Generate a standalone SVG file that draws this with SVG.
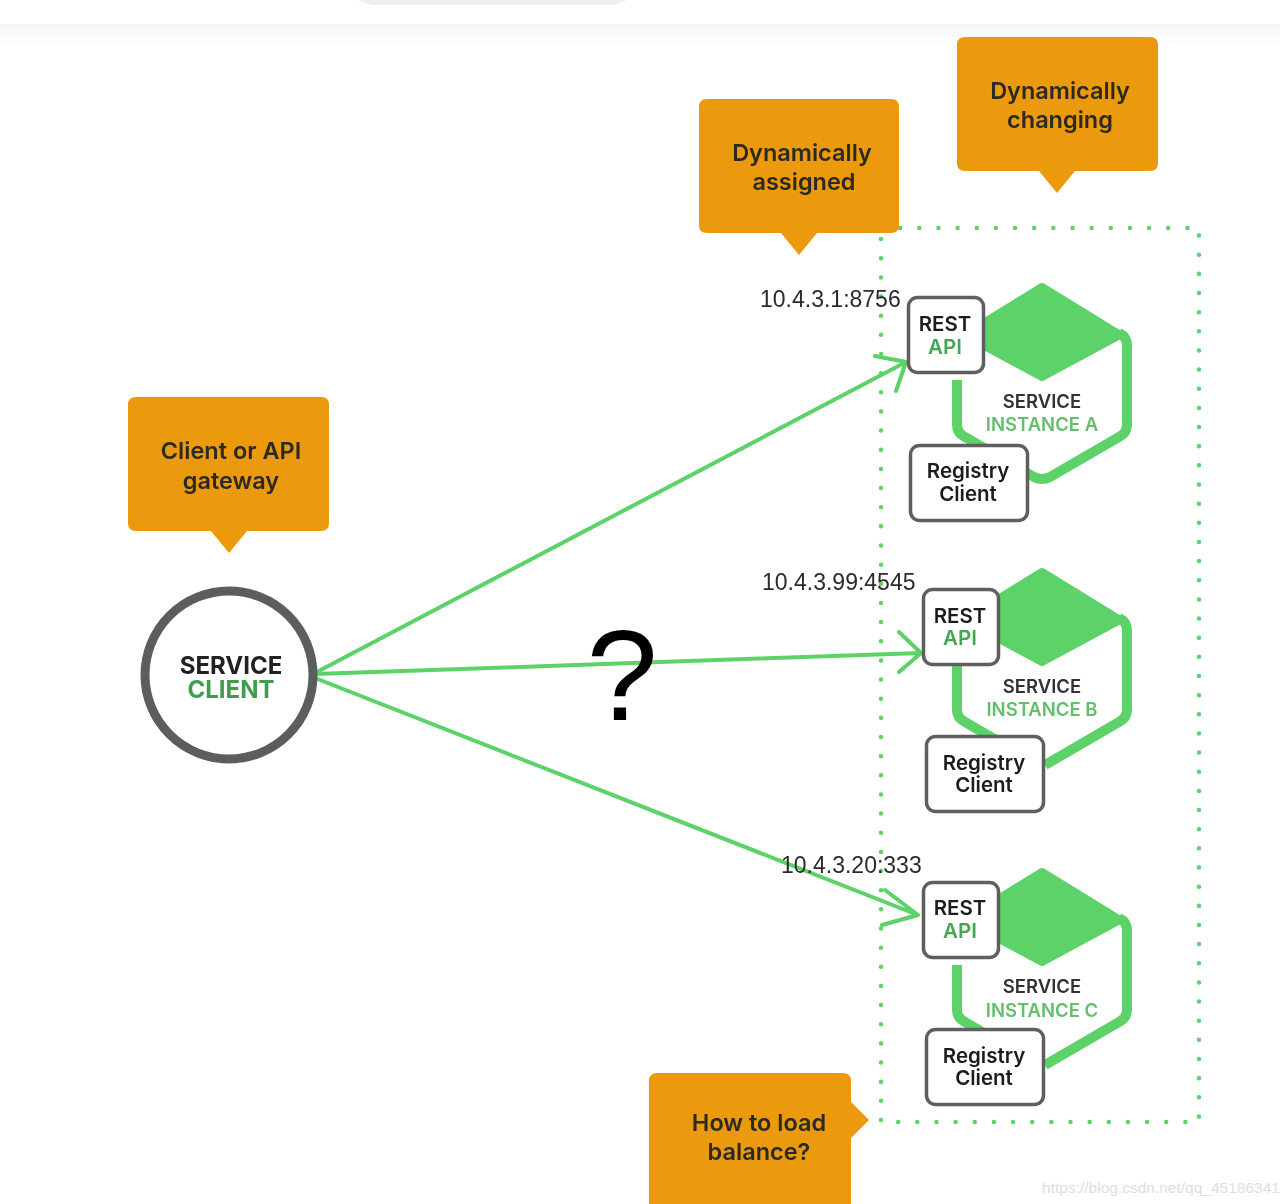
<svg xmlns="http://www.w3.org/2000/svg" width="1280" height="1204" viewBox="0 0 1280 1204">
<style>
text{font-family:"Inter","Liberation Sans",sans-serif;text-anchor:middle}
.c{fill:#ec9a07}
.ct{font-size:23.5px;font-weight:600;fill:#2c2a22}
.hexline{fill:none;stroke:#5cd268;stroke-width:10;stroke-linejoin:round}
.hexfill{fill:#5cd268;stroke:#5cd268;stroke-width:8;stroke-linejoin:round}
.box{fill:#fff;stroke:#5f5f5f;stroke-width:3.5}
.bt{font-size:20.5px;font-weight:600;fill:#1c1c1c}
.gt{font-size:20.5px;font-weight:600;fill:#45a552}
.st{font-size:18.5px;font-weight:600;fill:#333}
.sg{font-size:18.5px;font-weight:600;fill:#62bf6c}
.ip{font-family:"Liberation Sans",sans-serif;font-size:23px;fill:#2b2b2b;text-anchor:start}
.conn{fill:none;stroke:#5cd268;stroke-width:4;stroke-linecap:round;stroke-linejoin:round}
</style>
<defs>
<linearGradient id="g" x1="0" y1="0" x2="0" y2="1"><stop offset="0" stop-color="#f6f6f6"/><stop offset="1" stop-color="#fff"/></linearGradient>
<filter id="b" x="-5%" y="-5%" width="110%" height="110%"><feGaussianBlur stdDeviation="0.5"/></filter>
</defs>
<rect width="1280" height="1204" fill="#fff"/>
<g id="page-chrome">
<rect x="0" y="24" width="1280" height="22" fill="url(#g)"/>
<path d="M357 -1H628Q620 5 608 5H377Q365 5 357 -1Z" fill="#eeeeee"/>
</g>
<g filter="url(#b)">
<path id="boundary" d="M881 228H1199V1122H881Z" fill="none" stroke="#5cd268" stroke-width="4.5" stroke-linecap="round" stroke-dasharray="0 19.15"/>
<g id="connectors">
<path class="conn" d="M315 673L906 362M875 356L906 362L896 391"/>
<path class="conn" d="M315 674L921 653M899 632L921 653L899 672"/>
<path class="conn" d="M315 678L918 915M885 890L918 915L882 925"/>
</g>
<g id="client-callout"><path class="c" d="M136 397H321Q329 397 329 405V523Q329 531 321 531H247L229 553L211 531H136Q128 531 128 523V405Q128 397 136 397Z"/><text class="ct" x="231" y="459">Client or API</text><text class="ct" x="231" y="489">gateway</text></g>
<g id="assigned-callout"><path class="c" d="M707 99H891Q899 99 899 107V225Q899 233 891 233H817L799 255L781 233H707Q699 233 699 225V107Q699 99 707 99Z"/><text class="ct" x="802" y="161">Dynamically</text><text class="ct" x="804" y="190">assigned</text></g>
<g id="changing-callout"><path class="c" d="M965 37H1150Q1158 37 1158 45V163Q1158 171 1150 171H1075L1057 193L1039 171H965Q957 171 957 163V45Q957 37 965 37Z"/><text class="ct" x="1060" y="99">Dynamically</text><text class="ct" x="1060" y="128">changing</text></g>
<g id="balance-callout"><path class="c" d="M657 1073H843Q851 1073 851 1081V1102L869 1120L851 1138V1204H649V1081Q649 1073 657 1073Z"/><text class="ct" x="759" y="1131">How to load</text><text class="ct" x="759" y="1160">balance?</text></g>
<g id="service-client"><circle cx="229" cy="675" r="84" fill="#fff" stroke="#5d5d5d" stroke-width="9"/><text x="231" y="674" font-size="24" font-weight="700" fill="#222">SERVICE</text><text x="231" y="698" font-size="24" font-weight="700" fill="#3f9d4d">CLIENT</text></g>
<text id="question" x="622" y="720" font-size="128" fill="#000" style="font-family:'Liberation Sans',sans-serif">?</text>
<g id="instance-a">
<path class="hexline" d="M957 380V425Q957 433 965 437L1034 477Q1042 481 1050 477L1119 437Q1127 433 1127 425V345Q1127 337 1119 333"/>
<path class="hexfill" d="M1042 287L1120 335L1042 377L964 335Z"/>
<text class="st" x="1042" y="408">SERVICE</text><text class="sg" x="1042" y="431">INSTANCE A</text>
<rect class="box" x="908.500" y="297.500" width="75" height="75" rx="9"/><text class="bt" x="945" y="331">REST</text><text class="gt" x="945" y="354">API</text>
<rect class="box" x="910.500" y="445.500" width="117" height="75" rx="9"/><text class="bt" x="968" y="478">Registry</text><text class="bt" x="968" y="501">Client</text>
<text class="ip" x="760" y="307">10.4.3.1:8756</text>
</g>
<g id="instance-b">
<path class="hexline" d="M957 665V710Q957 718 965 722L1034 762M1045 765L1119 722Q1127 718 1127 710V630Q1127 622 1119 618"/>
<path class="hexfill" d="M1042 572L1120 620L1042 662L964 620Z"/>
<text class="st" x="1042" y="693">SERVICE</text><text class="sg" x="1042" y="716">INSTANCE B</text>
<rect class="box" x="923.500" y="589.500" width="75" height="75" rx="9"/><text class="bt" x="960" y="623">REST</text><text class="gt" x="960" y="645">API</text>
<rect class="box" x="926.500" y="736.500" width="117" height="75" rx="9"/><text class="bt" x="984" y="770">Registry</text><text class="bt" x="984" y="792">Client</text>
<text class="ip" x="762" y="590">10.4.3.99:4545</text>
</g>
<g id="instance-c">
<path class="hexline" d="M957 965V1010Q957 1018 965 1022L1034 1062M1045 1065L1119 1022Q1127 1018 1127 1010V930Q1127 922 1119 918"/>
<path class="hexfill" d="M1042 872L1120 920L1042 962L964 920Z"/>
<text class="st" x="1042" y="993">SERVICE</text><text class="sg" x="1042" y="1017">INSTANCE C</text>
<rect class="box" x="923.500" y="882.500" width="75" height="75" rx="9"/><text class="bt" x="960" y="915">REST</text><text class="gt" x="960" y="938">API</text>
<rect class="box" x="926.500" y="1029.500" width="117" height="75" rx="9"/><text class="bt" x="984" y="1063">Registry</text><text class="bt" x="984" y="1085">Client</text>
<text class="ip" x="781" y="873">10.4.3.20:333</text>
</g>
</g>
<text id="watermark" x="1161" y="1193" font-size="15.500" fill="#dedede" style="font-family:'Liberation Sans',sans-serif">https://blog.csdn.net/qq_45186341</text>
</svg>
